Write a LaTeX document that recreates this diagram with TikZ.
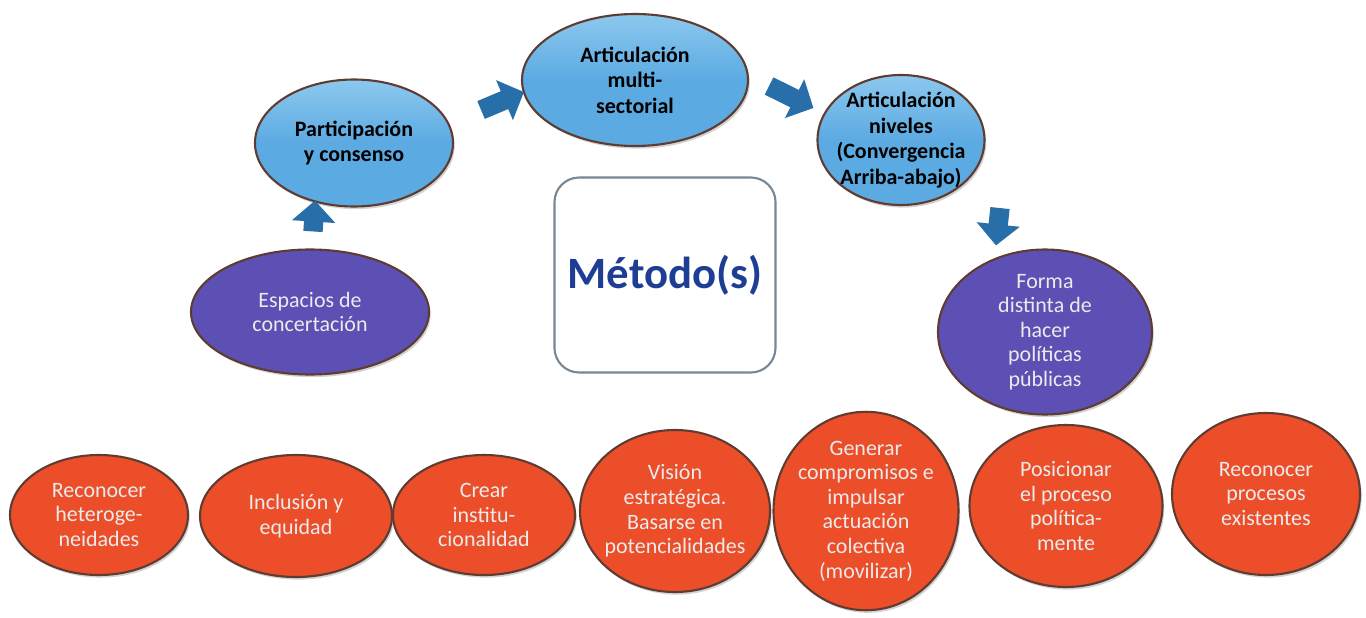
\documentclass[tikz,border=0pt]{standalone}
\usepackage{fontspec}
\setmainfont{Carlito}
\usepackage{xcolor}
\usepackage{tikz}
\usetikzlibrary{shapes.geometric, arrows.meta, shadows}

\definecolor{skyfill}{RGB}{92,170,226}
\definecolor{skytop}{RGB}{140,200,238}
\definecolor{violetfill}{RGB}{92,80,180}
\definecolor{redfill}{RGB}{236,78,42}
\definecolor{rimdark}{RGB}{95,60,50}
\definecolor{arrowblue}{RGB}{40,110,168}
\definecolor{metodoblue}{RGB}{30,62,150}
\definecolor{boxgray}{RGB}{120,135,150}

\begin{document}
\begin{tikzpicture}[
        oval/.style={ellipse, draw=rimdark, line width=1.2pt, inner sep=0pt, align=center,
            drop shadow={shadow xshift=1pt, shadow yshift=-1.5pt, opacity=0.35}},
        stage/.style={oval, top color=skytop, bottom color=skyfill, middle color=skyfill,
            font=\bfseries\fontsize{12.5}{14.5}\selectfont},
        outcome/.style={oval, fill=violetfill, text=white!92!black,
            font=\fontsize{12.5}{14}\selectfont},
        principle/.style={oval, fill=redfill, text=white!92!black,
            font=\fontsize{12.5}{14}\selectfont},
        core/.style={rectangle, draw=boxgray, line width=1.2pt, rounded corners=14pt, fill=white,
            text=metodoblue, font=\bfseries\fontsize{25.5}{30}\selectfont},
        flow/.style={draw=arrowblue, line width=11pt,
            -{Triangle[length=12pt, width=24pt]}}
        ]
        \useasboundingbox (0,0) rectangle (27.32,12.34);

        % Upper chain
        \node[stage, minimum width=3.96cm, minimum height=2.54cm] (part) at (7.08,9.48)
            {Participación\\y consenso};
        \node[stage, minimum width=4.52cm, minimum height=2.64cm] (multi) at (12.70,10.74)
            {Articulación\\multi-\\sectorial};
        \node[stage, minimum width=3.34cm, minimum height=2.60cm, inner xsep=-14pt, inner ysep=-6pt]
            (niveles) at (18.02,9.54)
            {Articulación\\niveles\\(Convergencia\\Arriba-abajo)};
        \node[outcome, minimum width=4.76cm, minimum height=2.50cm] (espacios) at (6.20,6.10)
            {Espacios de\\concertación};
        \node[outcome, minimum width=4.28cm, minimum height=3.30cm] (forma) at (20.90,5.70)
            {Forma\\distinta de\\hacer\\políticas\\públicas};

        % Center
        \node[core, minimum width=4.42cm, minimum height=3.90cm] (metodo) at (13.30,6.84) {Método(s)};

        % Principles
        \node[principle, minimum width=3.56cm, minimum height=2.40cm] (heterog) at (1.98,2.04)
            {Reconocer\\heteroge-\\neidades};
        \node[principle, minimum width=3.84cm, minimum height=2.44cm] (inclusion) at (5.92,2.02)
            {Inclusión y\\equidad};
        \node[principle, minimum width=3.64cm, minimum height=2.40cm] (instit) at (9.68,2.04)
            {Crear\\institu-\\cionalidad};
        \node[principle, minimum width=3.80cm, minimum height=3.24cm, inner xsep=-4pt] (vision) at (13.50,2.12)
            {Visión\\estratégica.\\Basarse en\\potencialidades};
        \node[principle, minimum width=3.70cm, minimum height=3.96cm, inner xsep=-4pt] (compromisos) at (17.32,2.12)
            {Generar\\compromisos e\\impulsar\\actuación\\colectiva\\(movilizar)};
        \node[principle, minimum width=3.86cm, minimum height=3.24cm] (posicionar) at (21.32,2.22)
            {Posicionar\\el proceso\\política-\\mente};
        \node[principle, minimum width=3.76cm, minimum height=3.24cm] (existentes) at (25.32,2.46)
            {Reconocer\\procesos\\existentes};

        % Links
        \draw[flow] ([shift={(0.06,0.34)}]espacios.north) -- ([shift={(-0.78,0.14)}]part.south);
        \draw[flow] ([shift={(0.54,0.66)}]part.east) -- ([shift={(0.06,-0.24)}]multi.west);
        \draw[flow] ([shift={(0.40,-0.12)}]multi.east) -- ([shift={(-0.06,0.64)}]niveles.west);
        \draw[flow] ([shift={(1.98,-0.04)}]niveles.south) -- ([shift={(-0.98,0.06)}]forma.north);

    \end{tikzpicture}
\end{document}
